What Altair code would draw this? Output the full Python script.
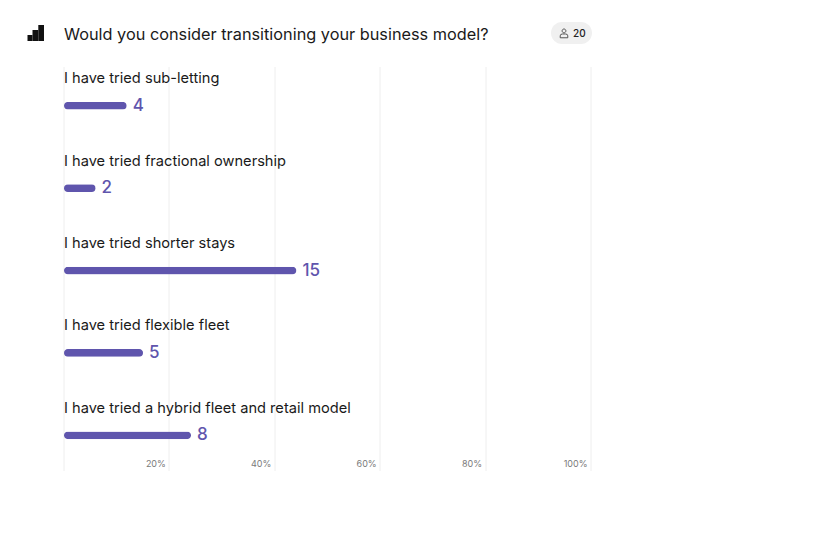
import altair as alt
import pandas as pd

FONT = "Inter"
title_text = "Would you consider transitioning your business model?"
respondents = ["20"]
categories = [
    "I have tried sub-letting",
    "I have tried fractional ownership",
    "I have tried shorter stays",
    "I have tried flexible fleet",
    "I have tried a hybrid fleet and retail model",
]
counts = [4, 2, 15, 5, 8]
percents = [11.9, 6.0, 44.1, 15.0, 24.1]
ticks = [0, 20, 40, 60, 80, 100]

df = pd.DataFrame({"cat": categories, "count": counts, "pct": percents})
PURPLE = "#5f55ad"

x = alt.X(
    "pct:Q",
    scale=alt.Scale(domain=[0, 100]),
    axis=alt.Axis(
        values=ticks, title=None, domain=False, ticks=False,
        grid=True, gridColor="#eeeeee", gridWidth=1, translate=0,
        labelExpr="datum.value == 0 ? '' : datum.value + '%'",
        labelAlign="right", labelOffset=-3.5, labelPadding=-11.5,
        labelFontSize=9, labelColor="#7a7a7a", labelFont=FONT,
    ),
)
y = alt.Y(
    "cat:N", sort=categories, axis=None,
    scale=alt.Scale(type="point", domain=categories, range=[0, 404], padding=0.4515, align=0.521),
)

base = alt.Chart(df).encode(y=y)
bars = base.mark_bar(size=7.7, cornerRadius=3.85, color=PURPLE).encode(x=x)
labels = base.mark_text(align="left", baseline="middle", font=FONT, fontSize=14.63, color="#1a1a1a", dy=-26.5).encode(
    x=alt.value(0), text="cat:N")
values = base.mark_text(align="left", baseline="middle", font=FONT, fontSize=17, fontWeight=500, color=PURPLE, dx=6).encode(
    x=alt.X("pct:Q"), text="count:Q")


def single(col, val):
    return alt.Chart(pd.DataFrame({col: [val]}))


title = single("t", title_text).mark_text(align="left", baseline="middle", font=FONT, fontSize=16.3, color="#1a1a1a").encode(
    x=alt.value(0), y=alt.value(-32.5), text="t:N")
badge = single("b", "badge").mark_rect(color="#f0f0f0", cornerRadius=11).encode(
    x=alt.value(487), x2=alt.value(528), y=alt.value(-45), y2=alt.value(-23))
badge_text = single("n", respondents[0]).mark_text(align="left", baseline="middle", font=FONT, fontSize=10, fontWeight=500, color="#222222").encode(
    x=alt.value(509), y=alt.value(-33.5), text="n:N")
person = single("p", "person").mark_point(
    shape="M-0.4,-0.55 A0.4,0.4 0 1 1 0.4,-0.55 A0.4,0.4 0 1 1 -0.4,-0.55 Z M-0.8,0.9 L-0.8,0.5 Q-0.8,0.1 -0.3,0.1 L0.3,0.1 Q0.8,0.1 0.8,0.5 L0.8,0.9 Z",
    size=90, stroke="#444444", strokeWidth=0.9, filled=False, opacity=1,
).encode(x=alt.value(500), y=alt.value(-33.5))

icon_left = single("i", "a").mark_rect(color="#111111").encode(x=alt.value(-36.5), x2=alt.value(-31.5), y=alt.value(-32), y2=alt.value(-26))
icon_mid = single("i", "b").mark_rect(color="#111111").encode(x=alt.value(-31.5), x2=alt.value(-25.7), y=alt.value(-37), y2=alt.value(-26))
icon_right = single("i", "c").mark_rect(color="#111111").encode(x=alt.value(-25.7), x2=alt.value(-20), y=alt.value(-42), y2=alt.value(-26))

chart = alt.layer(
    bars, labels, values, title, badge, badge_text, person, icon_left, icon_mid, icon_right
).properties(
    width=527, height=404,
    autosize=alt.AutoSizeParams(type="none"),
    padding={"left": 56, "top": 59, "right": 215, "bottom": 60},
    background="white",
).configure_view(stroke=None)

chart.save("out.html", embed_options={"renderer": "svg", "actions": False})
